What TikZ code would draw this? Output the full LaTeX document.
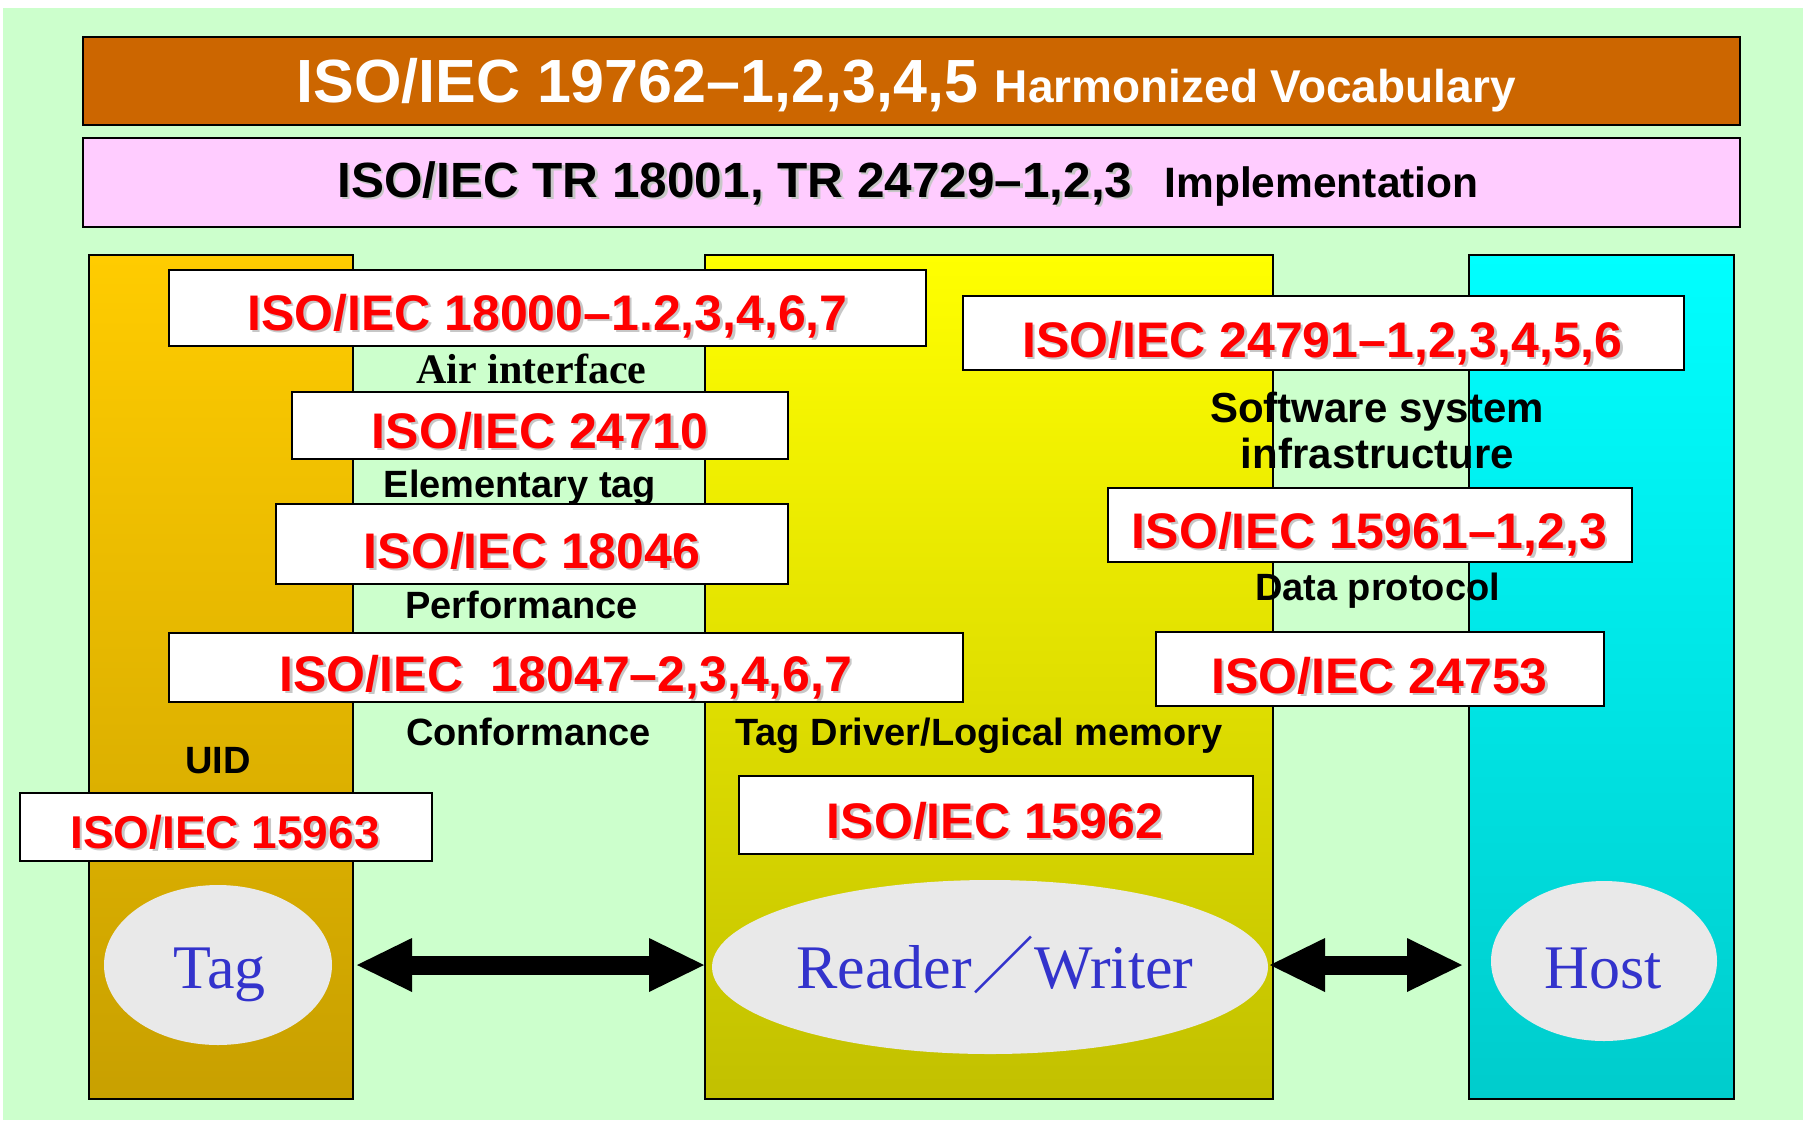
\documentclass[tikz,border=0pt]{standalone}
\usepackage{fontspec}
\setmainfont{Liberation Sans}
\newfontfamily\seriffam{Liberation Serif}
\newfontfamily\cjkfam{Noto Sans CJK JP}
\usetikzlibrary{arrows.meta,shapes.geometric}

\definecolor{bggreen}{HTML}{CCFFCC}
\definecolor{vocabcol}{HTML}{CC6600}
\definecolor{implcol}{HTML}{FFCCFF}
\definecolor{tagtop}{HTML}{FFCC00}
\definecolor{tagbot}{HTML}{C8A000}
\definecolor{rdtop}{HTML}{FFFF00}
\definecolor{rdbot}{HTML}{C2C000}
\definecolor{hosttop}{HTML}{00FFFF}
\definecolor{hostbot}{HTML}{00CCCC}
\definecolor{ellgray}{HTML}{E9E9E9}
\definecolor{devblue}{HTML}{3333CC}

\newcommand\setfs[1]{\fontsize{#1}{#1}\selectfont}
% text with a soft grey drop shadow
\newcommand\dropsh[2]{\rlap{\kern2.5pt\raisebox{-2.5pt}{\color{black!22}#2}}{\color{#1}#2}}

\begin{document}
\begin{tikzpicture}[x=1pt,y=-1pt,
  bar/.style={draw=black,line width=1.5pt,inner sep=0pt,outer sep=0pt},
  column/.style={draw=black,line width=1.2pt,inner sep=0pt,outer sep=0pt,
    minimum height=844pt},
  stdbox/.style={draw=black,line width=2.5pt,fill=white,inner sep=0pt,outer sep=0pt},
  stdno/.style={anchor=base,inner sep=0pt,font=\bfseries\setfs{50}},
  lbl/.style={anchor=base,inner sep=0pt,font=\bfseries\setfs{38}},
  device/.style={ellipse,fill=ellgray,draw=none,inner sep=0pt},
  devtext/.style={anchor=base,inner sep=0pt,text=devblue,font=\seriffam\setfs{62}},
  bigarrow/.style={line width=19pt,
    {Triangle[length=55pt,width=54pt,line width=0pt]}-{Triangle[length=55pt,width=54pt,line width=0pt]}}
]
\useasboundingbox (0,0) rectangle (1803,1120);
\fill[white] (0,0) rectangle (1803,1120);
\fill[bggreen] (3,8) rectangle (1803,1120);

% top bars
\node[bar,fill=vocabcol,minimum width=1657pt,minimum height=88pt] (vocab) at (911.5,81) {};
\node[anchor=base,inner sep=0pt,text=white] (vocabtxt) at (906,102)
  {\bfseries\setfs{61}ISO/IEC 19762–1,2,3,4,5 \setfs{46}Harmonized Vocabulary};
\node[bar,fill=implcol,minimum width=1657pt,minimum height=89pt] (impl) at (911.5,182.5) {};
\node[anchor=base,inner sep=0pt] (impltxt) at (908,197)
  {\bfseries\setfs{49.5}\dropsh{black}{ISO/IEC TR 18001, TR 24729–1,2,3}\hspace{32pt}\setfs{42.5}Implementation};

% columns
\node[column,minimum width=264pt,top color=tagtop,bottom color=tagbot] (tagcol) at (221,677) {};
\node[column,minimum width=568pt,top color=rdtop,bottom color=rdbot] (rdcol) at (989,677) {};
\node[column,minimum width=265pt,top color=hosttop,bottom color=hostbot] (hostcol) at (1601.5,677) {};

% devices
\node[device,minimum width=228pt,minimum height=160pt] (tag) at (218,965) {};
\node[device,minimum width=556pt,minimum height=174pt] (rw) at (990,967) {};
\node[device,minimum width=226pt,minimum height=160pt] (host) at (1604,961) {};
\node[devtext] (tagtxt) at (219.5,988) {Tag};
\node[devtext] (rwtxt) at (995,988) {Reader{\cjkfam ／}Writer};
\node[devtext] (hosttxt) at (1603,988) {Host};

% links between devices
\draw[bigarrow,shorten <=4pt,shorten >=1pt] (tagcol.east |- tag.center) -- (rdcol.west |- tag.center);
\draw[bigarrow,shorten <=-3pt,shorten >=7pt] (rdcol.east |- tag.center) -- (hostcol.west |- tag.center);

% standards: air interface side
\node[stdbox,minimum width=757pt,minimum height=76pt] (s18000) at (547.5,308) {};
\node[stdno] (s18000t) at (547.5,330) {\dropsh{red}{ISO/IEC 18000–1.2,3,4,6,7}};
\node[anchor=base,inner sep=0pt,font=\seriffam\bfseries\setfs{42}] (air) at (531.5,383) {Air interface};

\node[stdbox,minimum width=496pt,minimum height=67pt] (s24710) at (540,425.5) {};
\node[stdno] (s24710t) at (540,448) {\dropsh{red}{ISO/IEC 24710}};
\node[lbl] (elem) at (520,497) {Elementary tag};

\node[stdbox,minimum width=512pt,minimum height=80pt] (s18046) at (532,544) {};
\node[stdno] (s18046t) at (532,568) {\dropsh{red}{ISO/IEC 18046}};
\node[lbl] (perf) at (521.5,618) {Performance};

\node[stdbox,minimum width=794pt,minimum height=69pt] (s18047) at (566,667.5) {};
\node[stdno] (s18047t) at (566,691) {\dropsh{red}{ISO/IEC\ \ 18047–2,3,4,6,7}};
\node[lbl] (conf) at (528.5,745) {Conformance};

% UID
\node[lbl] (uid) at (218,773) {UID};
\node[stdbox,minimum width=412pt,minimum height=68pt] (s15963) at (226,827) {};
\node[stdno,font=\bfseries\setfs{46}] (s15963t) at (225,848) {\dropsh{red}{ISO/IEC 15963}};

% reader side
\node[lbl] (drv) at (979,745) {Tag Driver/Logical memory};
\node[stdbox,minimum width=514pt,minimum height=78pt] (s15962) at (996,815) {};
\node[stdno] (s15962t) at (995,838) {\dropsh{red}{ISO/IEC 15962}};

% host side
\node[stdbox,minimum width=721pt,minimum height=74pt] (s24791) at (1323.5,333) {};
\node[stdno] (s24791t) at (1322.5,357) {\dropsh{red}{ISO/IEC 24791–1,2,3,4,5,6}};
\node[lbl,font=\bfseries\setfs{42}] (sw1) at (1377,422) {Software system};
\node[lbl,font=\bfseries\setfs{42}] (sw2) at (1377.5,468) {infrastructure};

\node[stdbox,minimum width=524pt,minimum height=74pt] (s15961) at (1370,525) {};
\node[stdno] (s15961t) at (1369.5,548) {\dropsh{red}{ISO/IEC 15961–1,2,3}};
\node[lbl] (dataprot) at (1377.5,600) {Data protocol};

\node[stdbox,minimum width=448pt,minimum height=74pt] (s24753) at (1380,669) {};
\node[stdno] (s24753t) at (1379.5,693) {\dropsh{red}{ISO/IEC 24753}};
\end{tikzpicture}
\end{document}
